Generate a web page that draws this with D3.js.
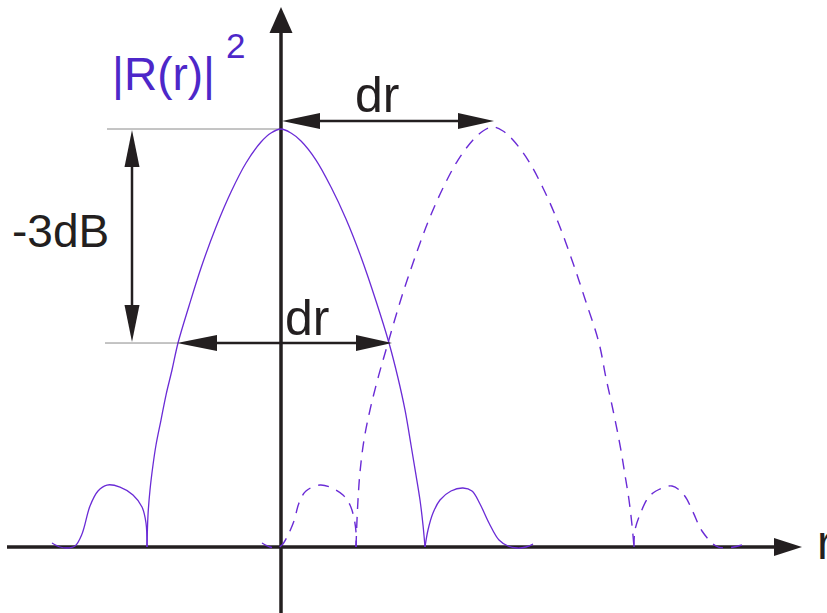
<!DOCTYPE html>
<html>
<head>
<meta charset="utf-8">
<script src="https://cdn.jsdelivr.net/npm/d3@7"></script>
<style>
  html, body { margin: 0; padding: 0; background: #fff; }
  svg { display: block; font-family: "Liberation Sans", Arial, sans-serif; }
</style>
</head>
<body>
<svg id="chart" width="827" height="613"></svg>
<script>
// r in arbitrary range units (origin = main lobe centre), power in % of peak
const solidLeftLobe = [[-2.29,0.96],[-2.21,0],[-2.14,-0.24],[-2.06,0.24],[-1.99,3.11],[-1.91,9.81],[-1.83,13.40],[-1.74,14.83],[-1.61,14.35],[-1.48,12.44],[-1.39,9.57],[-1.35,5.74],[-1.34,0]];
const solidMainLobe = [[-1.34,0],[-1.33,7.66],[-1.31,13.64],[-1.28,19.62],[-1.25,24.40],[-1.20,30.38],[-1.15,36.36],[-1.09,42.34],[-1.03,48.80],[-0.92,57.66],[-0.80,66.75],[-0.65,76.56],[-0.50,84.93],[-0.35,91.87],[-0.20,96.89],[-0.10,99.04],[0,100],[0.10,99.04],[0.20,97.13],[0.35,92.58],[0.50,86.12],[0.65,78.47],[0.80,69.38],[0.95,58.85],[1.08,48.80],[1.17,40.43],[1.24,32.78],[1.30,24.40],[1.35,17.22],[1.39,11.24],[1.42,5.26],[1.44,0]];
const solidRightLobe = [[1.44,0],[1.47,4.07],[1.52,8.13],[1.59,11.24],[1.70,13.40],[1.82,14.11],[1.91,13.40],[1.99,10.29],[2.08,5.74],[2.18,1.67],[2.27,0.24],[2.36,-0.24],[2.45,0],[2.52,0.72]];

const dashLeftLobe = [[-0.19,0.96],[-0.11,0],[-0.04,-0.24],[0.01,0.48],[0.06,2.39],[0.13,6.22],[0.18,10.53],[0.25,13.40],[0.39,14.83],[0.51,14.11],[0.62,12.44],[0.69,10.05],[0.73,6.94],[0.75,3.59],[0.75,0]];
const dashMainLobe = [[0.75,0],[0.76,6.46],[0.77,11.24],[0.79,17.94],[0.83,25.60],[0.89,32.78],[0.97,40.43],[1.07,48.80],[1.20,59.33],[1.32,67.94],[1.47,77.75],[1.62,85.89],[1.77,92.58],[1.92,97.37],[2.02,99.52],[2.12,100.48],[2.22,99.52],[2.32,97.37],[2.47,92.58],[2.62,85.89],[2.77,77.75],[2.92,67.94],[3.04,59.33],[3.18,48.80],[3.25,40.43],[3.32,32.78],[3.39,24.40],[3.44,17.22],[3.48,11.24],[3.51,5.26],[3.53,0]];
const dashRightLobe = [[3.53,0],[3.54,4.07],[3.60,8.37],[3.67,11.72],[3.75,13.40],[3.91,14.59],[4.03,12.44],[4.12,8.37],[4.21,3.83],[4.35,0.24],[4.45,-0.24],[4.61,0.48]];

// annotation levels
const peakLevel = 100;
const halfLevel = 48.8;     // -3 dB
const drTopLevel = 101.9;
const drShiftR = 2.12;      // dashed peak position
const halfLeftR = -1.03, halfRightR = 1.08;

const W = 827, H = 613;
const ink = "#231f20";
const purple = "#6a2bd6";
const labelColor = "#4d27c9";

const x = d3.scaleLinear().domain([-2.74, 5.21]).range([7, 802]);
const y = d3.scaleLinear().domain([0, 100]).range([547, 129]);

const svg = d3.select("#chart");

function arrowHead(tx, ty, dx, dy, len, hw) {
  // tip at (tx,ty), pointing in direction (dx,dy)
  const bx = tx - dx * len, by = ty - dy * len;
  const px = -dy * hw, py = dx * hw;
  svg.append("path")
    .attr("d", `M${tx},${ty}L${bx + px},${by + py}L${bx - px},${by - py}Z`)
    .attr("fill", ink);
}

// thin reference lines
svg.append("line")
  .attr("x1", x(-1.74)).attr("x2", x(0)).attr("y1", y(peakLevel)).attr("y2", y(peakLevel))
  .attr("stroke", "#8a8a8a").attr("stroke-width", 1);
svg.append("line")
  .attr("x1", x(-1.76)).attr("x2", x(halfLeftR)).attr("y1", y(halfLevel)).attr("y2", y(halfLevel))
  .attr("stroke", "#8a8a8a").attr("stroke-width", 1);

// axes
const x0 = x(0), y0 = y(0);
svg.append("line").attr("x1", x(-2.74)).attr("x2", 776).attr("y1", y0).attr("y2", y0)
  .attr("stroke", ink).attr("stroke-width", 3.5);
arrowHead(802, y0, 1, 0, 28, 9);
svg.append("line").attr("x1", x0).attr("x2", x0).attr("y1", H).attr("y2", 31)
  .attr("stroke", ink).attr("stroke-width", 3.5);
arrowHead(x0, 7, 0, -1, 26, 11.5);

// curves
const line = d3.line().x(d => x(d[0])).y(d => y(d[1])).curve(d3.curveCatmullRom.alpha(0.5));
[solidLeftLobe, solidMainLobe, solidRightLobe].forEach(arr => {
  svg.append("path").attr("d", line(arr)).attr("fill", "none")
    .attr("stroke", purple).attr("stroke-width", 1.3);
});
[dashLeftLobe, dashMainLobe, dashRightLobe].forEach(arr => {
  svg.append("path").attr("d", line(arr)).attr("fill", "none")
    .attr("stroke", purple).attr("stroke-width", 1.4).attr("stroke-dasharray", "11,8");
});

// -3dB double arrow
const ax = x(-1.49);
svg.append("line").attr("x1", ax).attr("x2", ax).attr("y1", y(peakLevel) + 30).attr("y2", y(halfLevel) - 30)
  .attr("stroke", ink).attr("stroke-width", 2.5);
arrowHead(ax, y(peakLevel) + 1, 0, -1, 37, 7.5);
arrowHead(ax, y(halfLevel) - 1, 0, 1, 37, 7.5);

// dr arrow at top
const yt = y(drTopLevel);
svg.append("line").attr("x1", x0 + 30).attr("x2", x(drShiftR) - 30).attr("y1", yt).attr("y2", yt)
  .attr("stroke", ink).attr("stroke-width", 2.5);
arrowHead(x0 + 1, yt, -1, 0, 38, 8);
arrowHead(x(drShiftR) + 1, yt, 1, 0, 36, 8);

// dr arrow at -3dB width
const yh = y(halfLevel);
svg.append("line").attr("x1", x(halfLeftR) + 30).attr("x2", x(halfRightR) - 30).attr("y1", yh).attr("y2", yh)
  .attr("stroke", ink).attr("stroke-width", 2.5);
arrowHead(x(halfLeftR) - 1, yh, -1, 0, 40, 8);
arrowHead(x(halfRightR) + 3, yh, 1, 0, 36, 8);

// labels
svg.append("text").attr("x", 355).attr("y", 112).attr("font-size", 50).attr("fill", ink).text("dr");
svg.append("text").attr("x", 285).attr("y", 335).attr("font-size", 50).attr("fill", ink).text("dr");
svg.append("text").attr("x", 12).attr("y", 247).attr("font-size", 46).attr("fill", ink).text("-3dB");
svg.append("text").attr("x", 817).attr("y", 559).attr("font-size", 48).attr("fill", ink).text("r");
const lab = svg.append("text").attr("x", 112).attr("y", 90).attr("font-size", 46).attr("fill", labelColor);
lab.append("tspan").text("|R(r)|");
svg.append("text").attr("x", 226).attr("y", 58).attr("font-size", 35).attr("fill", labelColor).text("2");
</script>
</body>
</html>
